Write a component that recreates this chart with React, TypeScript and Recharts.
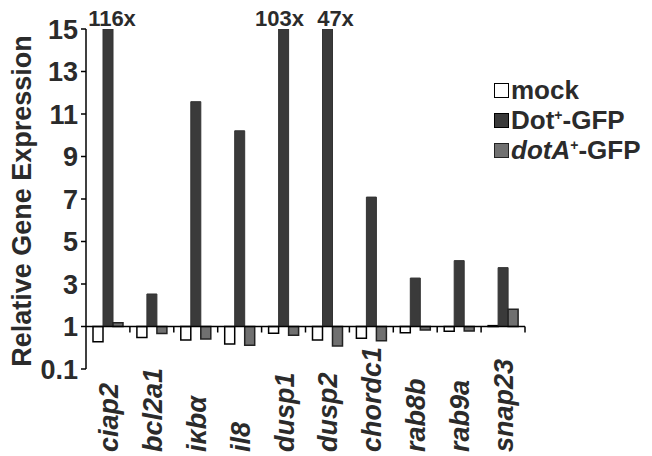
import React from 'react';
import { BarChart, Bar, XAxis, YAxis, ReferenceLine, Legend, LabelList } from 'recharts';

const genes = ['ciap2', 'bcl2a1', 'iκbα', 'il8', 'dusp1', 'dusp2', 'chordc1', 'rab8b', 'rab9a', 'snap23'];
const mockValues = [0.44, 0.55, 0.48, 0.39, 0.69, 0.48, 0.53, 0.71, 0.77, 1.04];
const dotValues = [116, 2.53, 11.58, 10.21, 103, 47, 7.09, 3.28, 4.1, 3.77];
const dotAValues = [1.18, 0.68, 0.51, 0.36, 0.62, 0.35, 0.46, 0.83, 0.78, 1.81];
const yTicks = [0.1, 1, 3, 5, 7, 9, 11, 13, 15];

const W = 652;
const H = 456;
const TOP = 29;
const LEFT = 86;
const RIGHT = 127;
const BOTTOM = 87;
const PLOT_H = H - TOP - BOTTOM;
const BAND = (W - LEFT - RIGHT) / genes.length;
const Y_MAX = 15;

// linear above 1, log between 0.1 and 1; baseline at 1 -> 0
const toAxis = (v: number) => (v >= 1 ? Math.min(v, Y_MAX) - 1 : 2 * Math.log10(v));
const tickLabel: Record<string, string> = {};
yTicks.forEach((t) => (tickLabel[String(toAxis(t))] = String(t)));
const ZERO_Y = TOP + (toAxis(Y_MAX) / (toAxis(Y_MAX) - toAxis(0.1))) * PLOT_H;

const data = genes.map((g, i) => ({
  gene: g,
  mock: toAxis(mockValues[i]),
  dot: toAxis(dotValues[i]),
  dotA: toAxis(dotAValues[i]),
  dotLabel: dotValues[i] > Y_MAX ? `${dotValues[i]}x` : '',
}));

const FONT = '"Liberation Sans", Arial, sans-serif';
const INK = '#2b2b2b';

// nudge the off-scale labels so neighbours don't collide
const labelNudge: Record<string, number> = { '116x': 4, '103x': -4, '47x': 8 };

const GeneTick = (props: any) => {
  const { x, payload } = props;
  return (
    <g>
      <line x1={x + BAND / 2} x2={x + BAND / 2} y1={ZERO_Y} y2={ZERO_Y + 6} stroke="#000" strokeWidth={1.5} />
      <text
        transform={`translate(${x + 10},452) rotate(-90)`}
        fontFamily={FONT}
        fontSize={27}
        fontWeight="bold"
        fontStyle="italic"
        fill={INK}
        textAnchor="start"
      >
        {payload.value}
      </text>
    </g>
  );
};

const YTitle = () => (
  <text
    transform={`translate(31,${TOP + PLOT_H / 2 + 2}) rotate(-90)`}
    fontFamily={FONT}
    fontSize={27}
    fontWeight="bold"
    fill={INK}
    textAnchor="middle"
  >
    Relative Gene Expression
  </text>
);

const legendItems = [
  { name: 'mock', fill: '#ffffff', border: '#000' },
  { name: 'Dot', italic: false, fill: '#3a3a3a', border: '#000' },
  { name: 'dotA', italic: true, fill: '#707070', border: '#222' },
];

const LegendBox = () => (
  <div style={{ fontFamily: FONT, fontSize: 26, fontWeight: 'bold', color: INK }}>
    {legendItems.map((it) => (
      <div key={it.name} style={{ display: 'flex', alignItems: 'center', height: 30 }}>
        <span
          style={{
            width: 13,
            height: 13,
            background: it.fill,
            border: `1.5px solid ${it.border}`,
            marginRight: 2,
            display: 'inline-block',
          }}
        />
        {it.name === 'mock' ? (
          <span>mock</span>
        ) : (
          <span>
            <span style={{ fontStyle: it.italic ? 'italic' : 'normal' }}>{it.name}</span>
            <span style={{ fontSize: 14, position: 'relative', top: -9 }}>+</span>
            -GFP
          </span>
        )}
      </div>
    ))}
  </div>
);

const DotLabel = (props: any) => {
  const { x, y, width, value } = props;
  if (!value) return null;
  return (
    <text
      x={x + width / 2 + (labelNudge[value] ?? 0)}
      y={y - 3}
      textAnchor="middle"
      fontFamily={FONT}
      fontSize={22}
      fontWeight="bold"
      fill={INK}
    >
      {value}
    </text>
  );
};

export default function App() {
  return (
    <div style={{ position: 'absolute', left: 0, top: 0, width: W, height: H, background: '#fff' }}>
      <BarChart
        width={W}
        height={H}
        data={data}
        margin={{ top: TOP, right: RIGHT, bottom: 0, left: 0 }}
        barCategoryGap={7}
        barGap={0}
      >
        <XAxis dataKey="gene" height={BOTTOM} axisLine={false} tickLine={false} interval={0} tick={<GeneTick />} />
        <YAxis
          width={LEFT}
          type="number"
          domain={[toAxis(0.1), toAxis(Y_MAX)]}
          ticks={yTicks.map(toAxis)}
          tickFormatter={(t: number) => tickLabel[String(t)] ?? ''}
          interval={0}
          allowDataOverflow
          axisLine={{ stroke: '#000', strokeWidth: 1.5 }}
          tickLine={{ stroke: '#000', strokeWidth: 1.5 }}
          tickSize={5}
          tickMargin={3}
          tick={{ fontFamily: FONT, fontSize: 27, fontWeight: 'bold', fill: INK }}
          label={<YTitle />}
        />
        <Legend
          layout="vertical"
          verticalAlign="middle"
          align="center"
          content={<LegendBox />}
          wrapperStyle={{ position: 'absolute', left: 494, top: 75, width: 160, height: 90 }}
        />
        <Bar dataKey="mock" fill="#ffffff" stroke="#000" strokeWidth={1.5} isAnimationActive={false} />
        <Bar dataKey="dot" fill="#3a3a3a" stroke="#333" strokeWidth={1} isAnimationActive={false}>
          <LabelList dataKey="dotLabel" content={<DotLabel />} />
        </Bar>
        <Bar dataKey="dotA" fill="#707070" stroke="#222" strokeWidth={1.5} isAnimationActive={false} />
        <ReferenceLine y={0} stroke="#000" strokeWidth={1.5} />
      </BarChart>
    </div>
  );
}
